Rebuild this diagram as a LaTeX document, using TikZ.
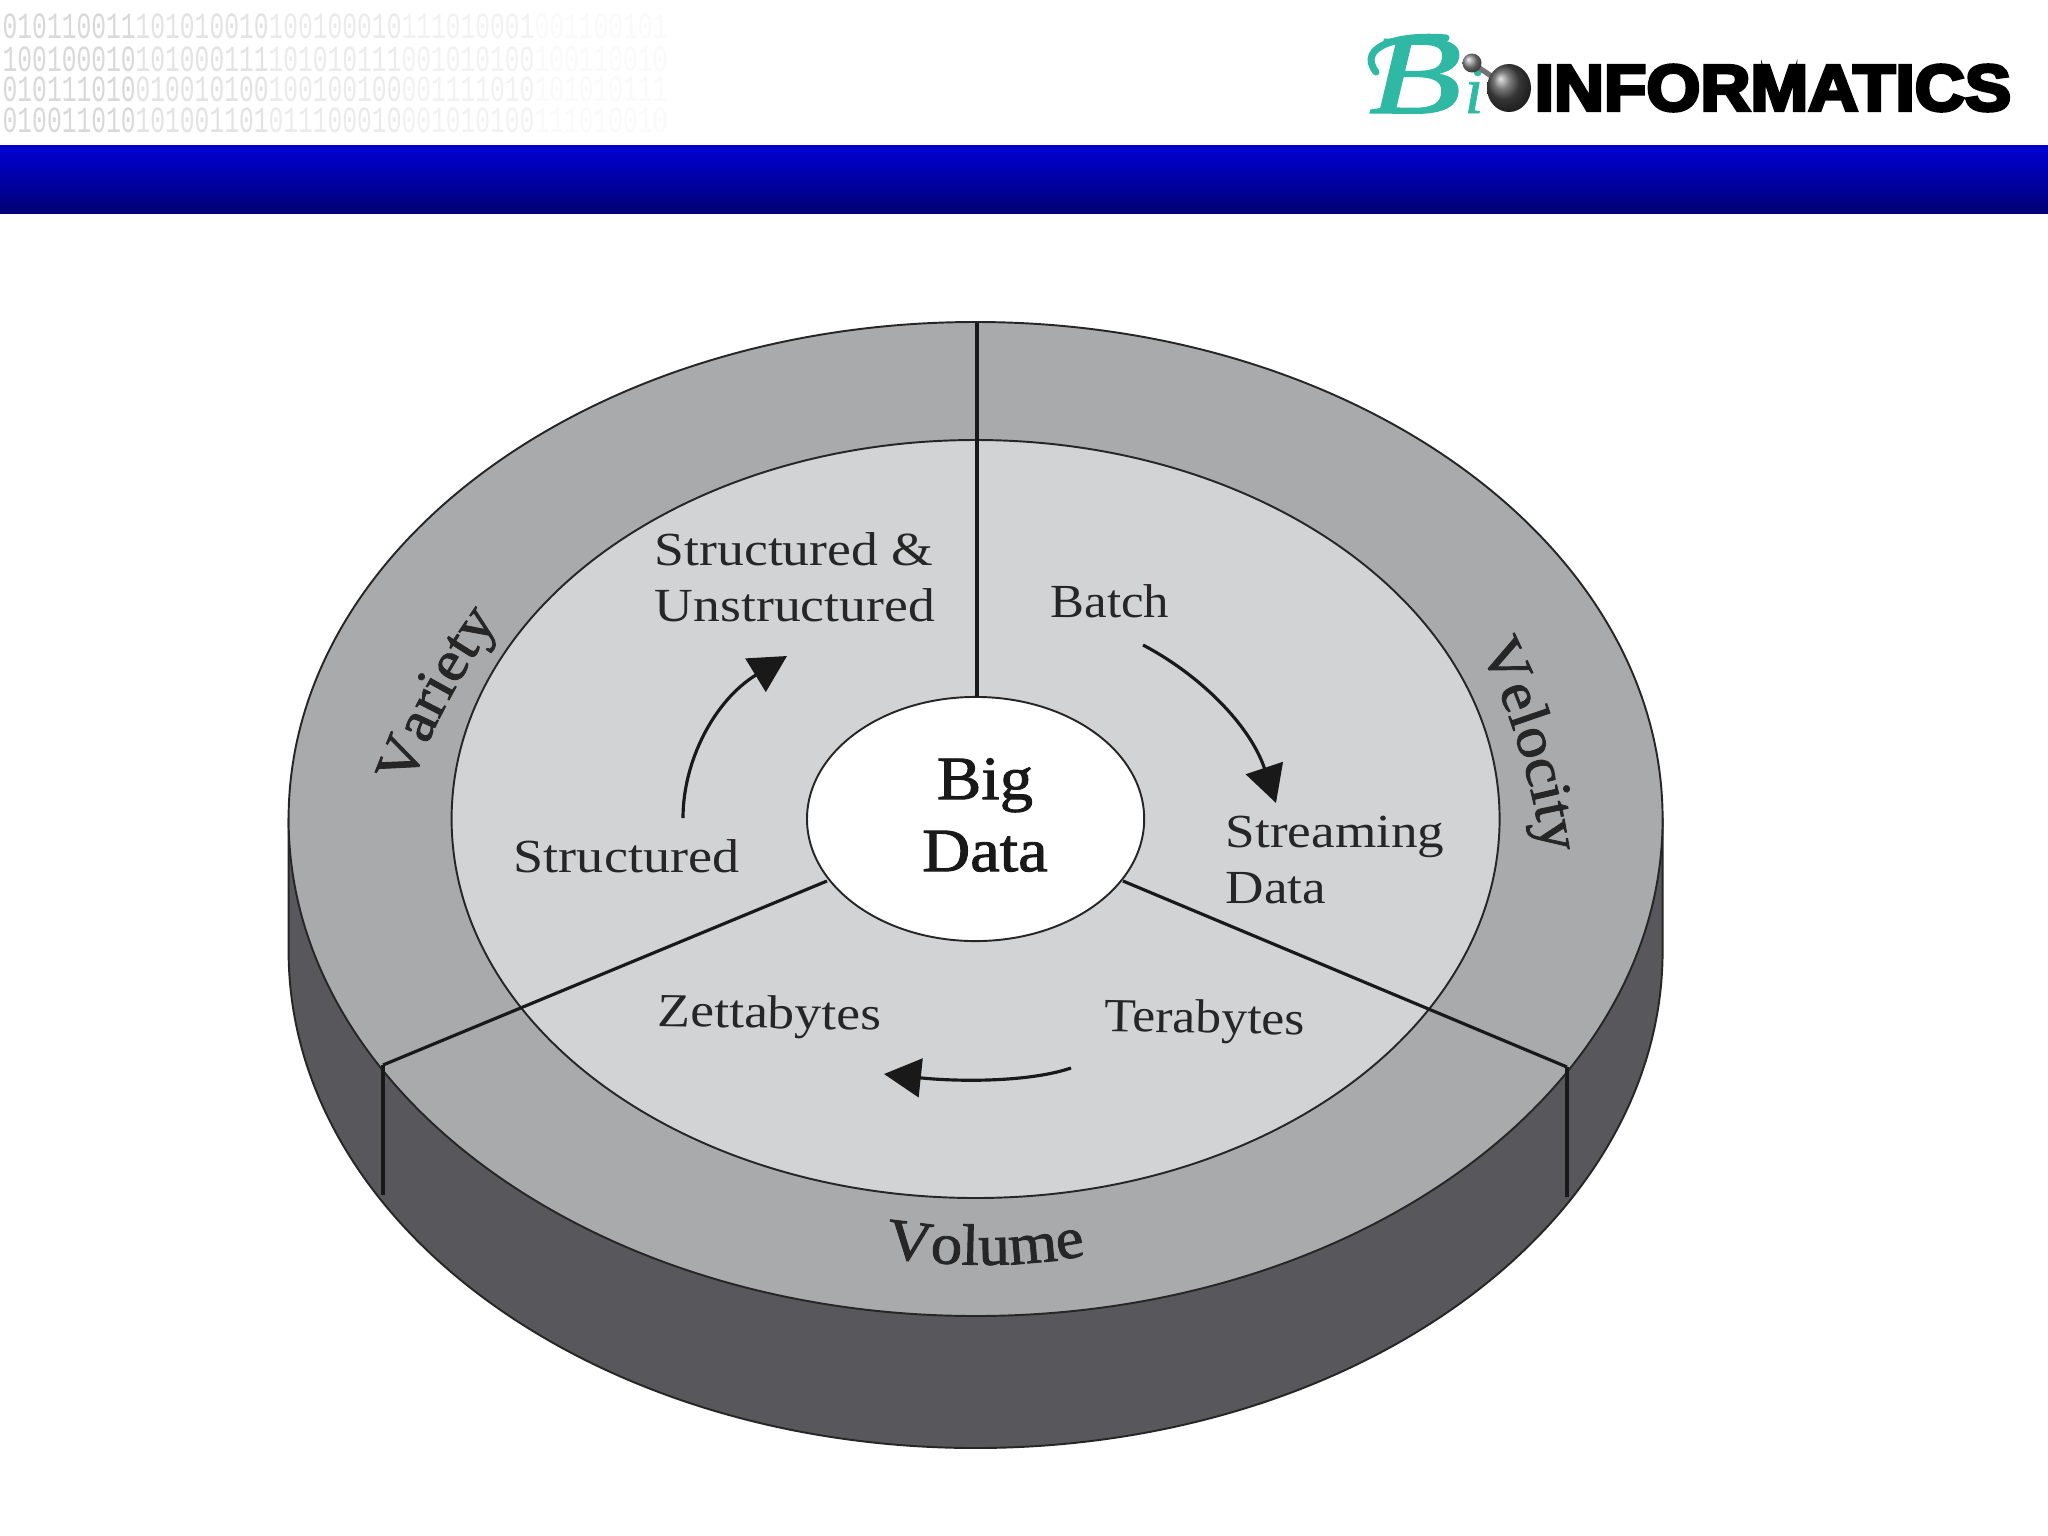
\documentclass[tikz,border=0pt]{standalone}
\usepackage{fontspec}
\setmainfont{Liberation Serif}
\newfontfamily\logofont[FakeBold=5]{Liberation Sans Bold}
\newfontfamily\monof{Liberation Mono}
\newfontfamily\dimf[FakeBold=1.5,FakeStretch=1.08]{Liberation Serif}
\newfontfamily\scriptf[FakeBold=1.2]{Liberation Serif Italic}
\usetikzlibrary{arrows.meta,shapes.geometric,decorations.text}
\definecolor{band}{HTML}{A9AAAC}
\definecolor{innerc}{HTML}{D2D3D5}
\definecolor{side}{HTML}{58575B}
\definecolor{teal1}{HTML}{2FB8A4}
\definecolor{dimtext}{HTML}{262626}
\pgfdeclareverticalshading{bannershade}{100bp}{color(0bp)=(blue!38!black);color(15bp)=(blue!38!black);color(70bp)=(blue!80!black);color(100bp)=(blue!80!black)}
\newcommand\fadebits[5]{\textcolor{black!15}{#1}\textcolor{black!11}{#2}\textcolor{black!8}{#3}\textcolor{black!5}{#4}\textcolor{black!2}{#5}}
\tikzset{
  px/.style={x=0.01cm,y=-0.01cm},
  lab/.style={font=\fontsize{13.5}{15}\selectfont,text=black!85,inner sep=0pt,align=left,anchor=west},
  bign/.style={font=\dimf\fontsize{17.5}{20.5}\selectfont,text=black!90,inner sep=0pt,align=center},
  edge/.style={draw=black!85,line width=0.55pt},
  div/.style={draw=black!90,line width=0.9pt},
  flow/.style={draw=black!90,line width=0.9pt,-{Triangle[length=10.5pt,width=11pt]}},
  bits/.style={font=\monof\fontsize{7}{8}\selectfont,inner sep=0pt,anchor=west,yscale=1.5},
  dimname/.style={decorate,decoration={text along path,text align=center,text color=dimtext,text={|\dimf\fontsize{16.5}{18}\selectfont|#1}}},
}
\begin{document}
\begin{tikzpicture}[px]
\useasboundingbox (0,0) rectangle (2048,1536);
\fill[white] (0,0) rectangle (2048,1536);
% binary watermark
\node[bits] (row1) at (2,26) {\fadebits{010110011}{101010010}{100100010}{111010001}{001100101}};
\node[bits] (row2) at (2,59) {\fadebits{100100010}{101000111}{101010111}{001010100}{100110010}};
\node[bits] (row3) at (2,89) {\fadebits{010111010}{010010100}{100100100}{001111010}{101010111}};
\node[bits] (row4) at (2,120) {\fadebits{010011010}{101001101}{011100010}{001010100}{111010010}};
% banner
\shade[shading=bannershade] (0,145) rectangle (2048,213);
% logo
\node[inner sep=0pt,anchor=west,text=black,xscale=1.06] (logo) at (1534,88) {\logofont\fontsize{18.6}{19}\selectfont INFORMATICS};
\draw[teal1,line width=2pt,line cap=round] (1376,72) .. controls (1356,46) and (1400,34) .. (1446,38);
\node[inner sep=0pt,text=teal1,anchor=base west,xscale=1.35] (bi) at (1368,113) {\scriptf\fontsize{32}{33}\selectfont B};
\node[inner sep=0pt,text=teal1,anchor=base west] (i) at (1464,113) {\scriptf\fontsize{19}{20}\selectfont i};
\draw[black!55,line width=1.5pt] (1472,63) -- (1500,82);
\shade[ball color=black!45] (1472,63) circle (9.5);
\shade[ball color=black!70] (1509,88) ellipse (22 and 24);
% disc body
\coordinate (C) at (975.6,819);
\path[fill=side,draw=black!85,line width=0.55pt] (288.6,819) -- (288.6,951) arc[start angle=180,end angle=360,x radius=687,y radius=-497] -- (1662.6,819) -- cycle;
\path[edge,fill=band] (C) ellipse (687 and 497);
\path[edge,fill=innerc] (C) ellipse (524 and 379);
\node[draw=black!85,line width=0.55pt,fill=white,ellipse,inner sep=0pt,minimum width=3.37cm,minimum height=2.44cm] (hub) at (975.6,819) {};
% dividers
\coordinate (tl) at (977,323);
\coordinate (tr) at (977,697);
\coordinate (ll) at (383,1065);
\coordinate (lh) at (827,881);
\coordinate (lr) at (1567,1067);
\coordinate (rh) at (1123,881);
\coordinate (lb) at (383,1195);
\coordinate (rb) at (1567,1197);
\draw[div] (tl) -- (tr);
\draw[div] (ll) -- (lh);
\draw[div] (lr) -- (rh);
\draw[div] (ll) -- (lb);
\draw[div] (lr) -- (rb);
% labels
\node[bign] (big) at (985,815) {Big\\Data};
\node[lab,xscale=1.13] (su) at (654,577) {Structured \&\\[1pt]Unstructured};
\node[lab,xscale=1.14] (s) at (513,856) {Structured};
\node[lab,xscale=1.07] (ba) at (1050,601) {Batch};
\node[lab,xscale=1.12] (sd) at (1225,860) {Streaming\\[1pt]Data};
\node[lab,rotate=-1,xscale=1.09] (tb) at (1104,1020) {Terabytes};
\node[lab,rotate=-1,xscale=1.13] (zb) at (657,1015) {Zettabytes};
% ring names
\path[dimname={Variety}] (406,800) .. controls (430,727) and (465,667) .. (506,610);
\path[dimname={Velocity}] (1476,643) .. controls (1503,690) and (1532,775) .. (1544,860);
\path[dimname={Volume}] (880,1256) .. controls (950,1268) and (1030,1268) .. (1091,1254);
% arrows
\coordinate (a1s) at (683,818); \coordinate (a1e) at (787,656);
\coordinate (a2s) at (1143,645); \coordinate (a2e) at (1276,803);
\coordinate (a3s) at (1071,1068); \coordinate (a3e) at (884,1074);
\draw[flow] (a1s) .. controls (683,760) and (715,700) .. (a1e);
\draw[flow] (a2s) .. controls (1200,675) and (1250,725) .. (a2e);
\draw[flow] (a3s) .. controls (1030,1082) and (960,1082) .. (a3e);
\end{tikzpicture}
\end{document}
